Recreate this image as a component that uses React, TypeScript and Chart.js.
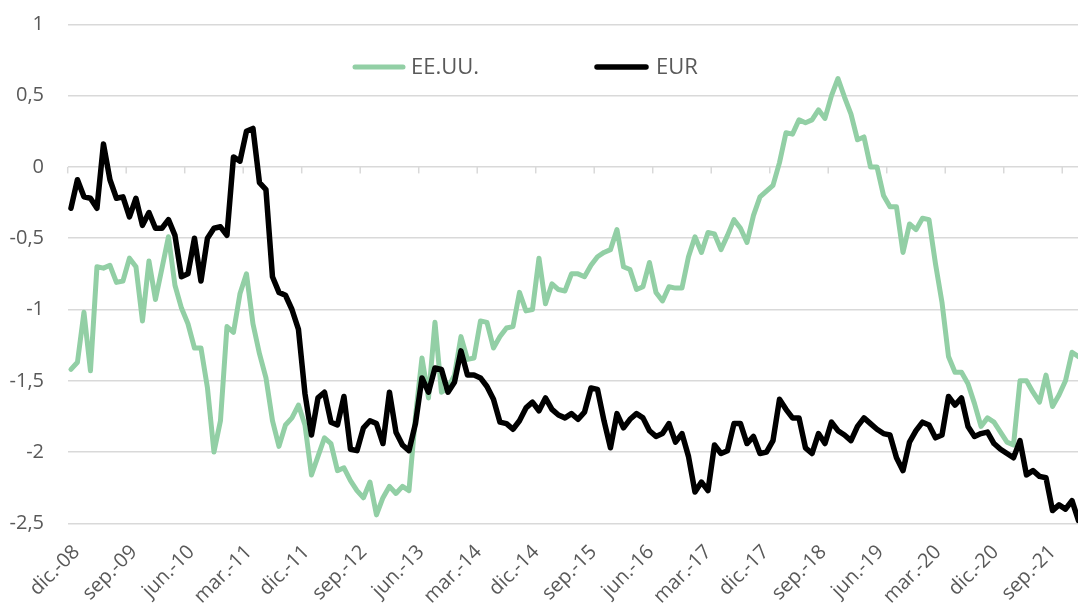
import React, { useEffect, useRef } from 'react';
import { Chart, registerables } from 'chart.js';

Chart.register(...registerables);

// Month categories: dic.-08 … nov.-21 (monthly)
const MONTH_ABBR = ['ene.', 'feb.', 'mar.', 'abr.', 'may.', 'jun.', 'jul.', 'ago.', 'sep.', 'oct.', 'nov.', 'dic.'];
const FIRST_YEAR = 2008;
const FIRST_MONTH = 11; // December (0-based)
const N_MONTHS = 156;
const categories: string[] = Array.from({ length: N_MONTHS }, (_, i) => {
  const m = (FIRST_MONTH + i) % 12;
  const y = FIRST_YEAR + Math.floor((FIRST_MONTH + i) / 12);
  return `${MONTH_ABBR[m]}-${String(y % 100).padStart(2, '0')}`;
});
const LABEL_EVERY = 9;
const labelIndices: number[] = [0, 9, 18, 27, 36, 45, 54, 63, 72, 81, 90, 99, 108, 117, 126, 135, 144, 153];

const seriesNames = ['EE.UU.', 'EUR'];

const usValues = [
  -1.42, -1.37, -1.02, -1.43, -0.70, -0.71, -0.69, -0.81, -0.80, -0.64,
  -0.70, -1.08, -0.66, -0.93, -0.71, -0.49, -0.83, -0.99, -1.10, -1.27,
  -1.27, -1.55, -2.00, -1.78, -1.12, -1.16, -0.89, -0.75, -1.10, -1.31,
  -1.48, -1.78, -1.96, -1.81, -1.76, -1.67, -1.81, -2.16, -2.03, -1.90,
  -1.94, -2.13, -2.11, -2.20, -2.27, -2.32, -2.21, -2.44, -2.32, -2.24,
  -2.29, -2.24, -2.27, -1.75, -1.34, -1.62, -1.09, -1.58, -1.55, -1.46,
  -1.19, -1.35, -1.34, -1.08, -1.09, -1.27, -1.19, -1.13, -1.12, -0.88,
  -1.01, -1.00, -0.64, -0.96, -0.82, -0.86, -0.87, -0.75, -0.75, -0.77,
  -0.69, -0.63, -0.60, -0.58, -0.44, -0.70, -0.72, -0.86, -0.84, -0.67,
  -0.88, -0.94, -0.84, -0.85, -0.85, -0.63, -0.49, -0.60, -0.46, -0.47,
  -0.58, -0.48, -0.37, -0.43, -0.53, -0.34, -0.21, -0.17, -0.13, 0.03,
  0.24, 0.23, 0.33, 0.31, 0.33, 0.40, 0.34, 0.50, 0.62, 0.49,
  0.37, 0.19, 0.21, 0.00, 0.00, -0.20, -0.28, -0.28, -0.60, -0.40,
  -0.44, -0.36, -0.37, -0.68, -0.95, -1.33, -1.44, -1.44, -1.52, -1.66,
  -1.82, -1.76, -1.79, -1.86, -1.93, -1.95, -1.50, -1.50, -1.58, -1.65,
  -1.46, -1.68, -1.60, -1.50, -1.30, -1.33,
];

const eurValues = [
  -0.29, -0.09, -0.21, -0.22, -0.29, 0.16, -0.09, -0.22, -0.21, -0.35,
  -0.22, -0.41, -0.32, -0.43, -0.43, -0.37, -0.48, -0.77, -0.75, -0.50,
  -0.80, -0.50, -0.43, -0.42, -0.48, 0.07, 0.04, 0.25, 0.27, -0.11,
  -0.16, -0.77, -0.88, -0.90, -1.00, -1.14, -1.59, -1.88, -1.62, -1.58,
  -1.79, -1.81, -1.61, -1.98, -1.99, -1.83, -1.78, -1.80, -1.94, -1.58,
  -1.86, -1.95, -1.99, -1.80, -1.48, -1.58, -1.41, -1.42, -1.58, -1.51,
  -1.29, -1.46, -1.46, -1.48, -1.54, -1.63, -1.79, -1.80, -1.84, -1.78,
  -1.69, -1.65, -1.71, -1.62, -1.70, -1.74, -1.76, -1.73, -1.77, -1.72,
  -1.55, -1.56, -1.78, -1.97, -1.73, -1.83, -1.77, -1.73, -1.76, -1.85,
  -1.89, -1.87, -1.80, -1.93, -1.87, -2.03, -2.28, -2.21, -2.27, -1.95,
  -2.01, -1.99, -1.80, -1.80, -1.94, -1.89, -2.01, -2.00, -1.92, -1.63,
  -1.70, -1.76, -1.76, -1.97, -2.01, -1.87, -1.94, -1.79, -1.85, -1.88,
  -1.92, -1.82, -1.76, -1.80, -1.84, -1.87, -1.88, -2.04, -2.13, -1.93,
  -1.85, -1.79, -1.81, -1.90, -1.88, -1.61, -1.67, -1.62, -1.82, -1.89,
  -1.87, -1.86, -1.94, -1.98, -2.01, -2.04, -1.92, -2.16, -2.13, -2.17,
  -2.18, -2.41, -2.37, -2.40, -2.34, -2.48,
];

const Y_MIN = -2.5;
const Y_MAX = 1;
const Y_STEP = 0.5;

// label axis range (labels in the original are spaced slightly tighter than the ticks)
const LABEL_AXIS_MIN = -0.6;
const LABEL_AXIS_MAX = 158.3;

const GREEN = '#92cfa5';
const BLACK = '#000000';
const TEXT = '#595959';
const GRID = '#d9d9d9';
const FONT = '"Open Sans", "DejaVu Sans", sans-serif';

const CANVAS_W = 1090;
const CANVAS_H = 607;

const decorPlugin = {
  id: 'decor',
  beforeDatasetsDraw(chart: any) {
    const { ctx } = chart;
    const xs = chart.scales.x;
    const ys = chart.scales.y;
    const y0 = ys.getPixelForValue(0);
    const half = (xs.getPixelForValue(1) - xs.getPixelForValue(0)) / 2;
    ctx.save();
    ctx.strokeStyle = GRID;
    ctx.lineWidth = 1.5;
    for (let i = 0; i < categories.length; i += LABEL_EVERY) {
      const x = xs.getPixelForValue(i) - half;
      ctx.beginPath();
      ctx.moveTo(x, y0);
      ctx.lineTo(x, y0 + 6.5);
      ctx.stroke();
    }
    ctx.restore();
  },
  afterDraw(chart: any) {
    const { ctx } = chart;
    const items = [
      { label: seriesNames[0], color: GREEN, x0: 355, x1: 403, tx: 411, w: 5 },
      { label: seriesNames[1], color: BLACK, x0: 597, x1: 646, tx: 656, w: 5.5 },
    ];
    const ly = 67;
    ctx.save();
    ctx.lineCap = 'round';
    for (const it of items) {
      ctx.strokeStyle = it.color;
      ctx.lineWidth = it.w;
      ctx.beginPath();
      ctx.moveTo(it.x0, ly);
      ctx.lineTo(it.x1, ly);
      ctx.stroke();
      ctx.fillStyle = TEXT;
      ctx.font = `22px ${FONT}`;
      ctx.textBaseline = 'middle';
      ctx.textAlign = 'left';
      ctx.fillText(it.label, it.tx, ly + 1);
    }
    ctx.restore();
  },
};

export default function App() {
  const ref = useRef<HTMLCanvasElement | null>(null);

  useEffect(() => {
    document.body.style.margin = '0';
    const canvas = ref.current;
    if (!canvas) return;
    const chart = new Chart(canvas, {
      type: 'line',
      data: {
        labels: categories,
        datasets: [
          {
            label: seriesNames[0],
            data: usValues,
            borderColor: GREEN,
            backgroundColor: GREEN,
            borderWidth: 5,
            pointRadius: 0,
            pointHoverRadius: 0,
            tension: 0,
            fill: false,
            borderJoinStyle: 'round',
            borderCapStyle: 'round',
            order: 1,
          },
          {
            label: seriesNames[1],
            data: eurValues,
            borderColor: BLACK,
            backgroundColor: BLACK,
            borderWidth: 5.5,
            pointRadius: 0,
            pointHoverRadius: 0,
            tension: 0,
            fill: false,
            borderJoinStyle: 'round',
            borderCapStyle: 'round',
            order: 0,
          },
        ],
      },
      options: {
        responsive: false,
        animation: false,
        devicePixelRatio: 1,
        layout: { padding: { top: 24.3, right: 8.25, left: 0, bottom: 0 } },
        plugins: {
          legend: { display: false },
          tooltip: { enabled: false },
        },
        scales: {
          x: {
            type: 'category',
            offset: true,
            display: false,
          },
          xl: {
            type: 'linear',
            position: 'bottom',
            min: LABEL_AXIS_MIN,
            max: LABEL_AXIS_MAX,
            grid: { display: false, drawTicks: false },
            border: { display: false },
            afterBuildTicks: (s: any) => {
              s.ticks = labelIndices.map((v) => ({ value: v }));
            },
            ticks: {
              autoSkip: false,
              minRotation: 45,
              maxRotation: 45,
              padding: 17,
              labelOffset: 5,
              color: TEXT,
              font: { family: FONT, size: 20 },
              callback: (val: any) => categories[Math.round(Number(val))] ?? null,
            },
            afterFit: (s: any) => {
              s.height = 83.6;
              s.paddingLeft = 0;
              s.paddingRight = 0;
            },
          },
          y: {
            min: Y_MIN,
            max: Y_MAX,
            grid: { color: GRID, lineWidth: 1.5, drawTicks: false },
            border: { display: false },
            ticks: {
              stepSize: Y_STEP,
              padding: 23.7,
              color: TEXT,
              font: { family: FONT, size: 20 },
              callback: (v: any) => String(v).replace('.', ','),
            },
            afterFit: (s: any) => {
              s.width = 67.7;
              s.paddingTop = 0;
              s.paddingBottom = 0;
            },
          },
        },
      },
      plugins: [decorPlugin],
    });
    return () => chart.destroy();
  }, []);

  return (
    <div style={{ width: 1078, height: 607, overflow: 'hidden', position: 'relative', background: '#fff' }}>
      <canvas ref={ref} width={CANVAS_W} height={CANVAS_H} style={{ display: 'block', width: CANVAS_W, height: CANVAS_H }} />
    </div>
  );
}
